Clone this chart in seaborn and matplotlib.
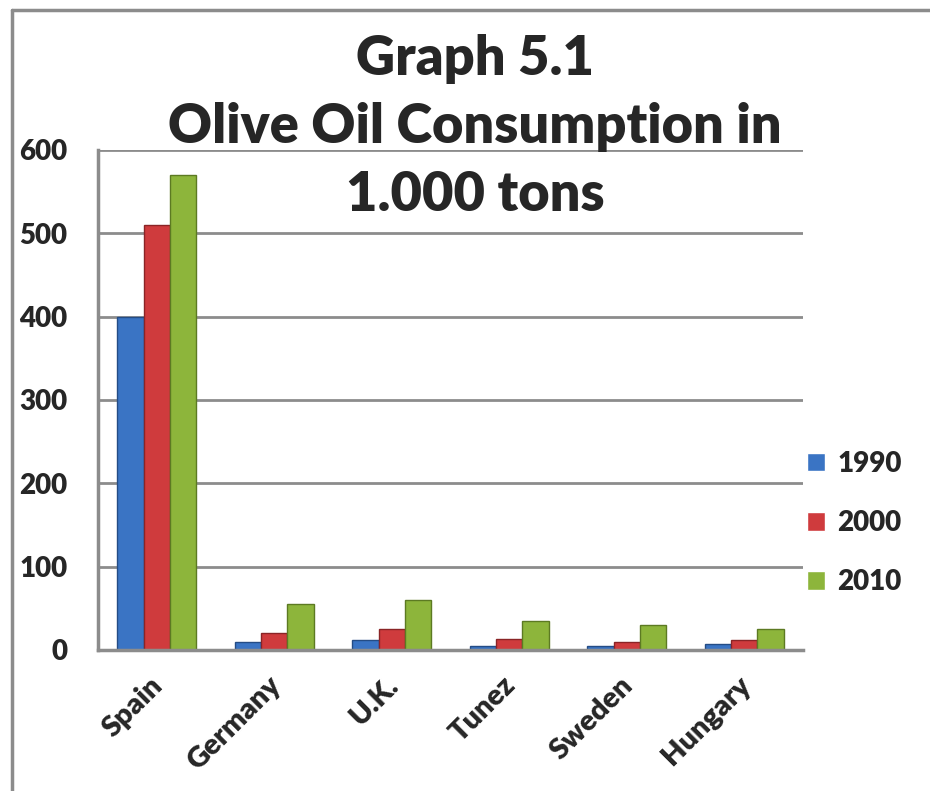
import matplotlib
matplotlib.use("Agg")
import matplotlib.pyplot as plt
import matplotlib.transforms as mtransforms
from matplotlib.lines import Line2D
import seaborn as sns
import pandas as pd

countries = ["Spain", "Germany", "U.K.", "Tunez", "Sweden", "Hungary"]
years = ["1990", "2000", "2010"]
v1990 = [400, 10, 12, 5, 5, 7]
v2000 = [510, 20, 25, 13, 10, 12]
v2010 = [570, 55, 60, 35, 30, 25]
yticks = [0, 100, 200, 300, 400, 500, 600]
title = "Graph 5.1\nOlive Oil Consumption in\n1.000 tons"

colors = ["#3A74C4", "#CF3B3D", "#8DB53B"]
edges = ["#244C85", "#8A2426", "#5C7A22"]

rows = []
for y, vals in zip(years, [v1990, v2000, v2010]):
    for c, v in zip(countries, vals):
        rows.append({"Country": c, "Year": y, "Value": v})
df = pd.DataFrame(rows)

sns.set_theme(style="white")
plt.rcParams["font.family"] = ["Lato", "DejaVu Sans"]

fig = plt.figure(figsize=(9.3, 7.91), dpi=100)
ax = fig.add_axes([98/930, 1-650/791, (803-98)/930, 500/791])

sns.barplot(data=df, x="Country", y="Value", hue="Year", order=countries,
            hue_order=years, palette=colors, width=0.67, ax=ax,
            saturation=1, legend=True)

for i, cont in enumerate(ax.containers):
    for p in cont.patches:
        p.set_edgecolor(edges[i])
        p.set_linewidth(1.0)

ax.set_ylim(0, 600)
ax.set_xlim(-0.5, 5.5)
ax.set_yticks(yticks)
ax.set_yticklabels([str(t) for t in yticks], fontsize=20, fontweight="heavy")
ax.yaxis.grid(True, color="#8C8C8C", linewidth=2)
ax.set_axisbelow(True)
ax.tick_params(axis="both", length=0)
ax.tick_params(axis="y", pad=22)
ax.set_xlabel("")
ax.set_ylabel("")
ax.set_xticks(range(len(countries)))
ax.set_xticklabels(countries, rotation=45, ha="right", rotation_mode="anchor",
                   fontsize=21, fontweight="heavy")
ax.tick_params(axis="x", pad=16)
offset = mtransforms.ScaledTranslation(-7/100, 0, fig.dpi_scale_trans)
for lbl in ax.get_xticklabels():
    lbl.set_transform(lbl.get_transform() + offset)
for s in ["top", "right"]:
    ax.spines[s].set_visible(False)
for s in ["left", "bottom"]:
    ax.spines[s].set_color("#8C8C8C")
    ax.spines[s].set_linewidth(2.5)

handles, labels = ax.get_legend_handles_labels()
if ax.legend_:
    ax.legend_.remove()
fig.legend(handles, labels, loc="center left",
           bbox_to_anchor=(807/930, 1-523/791), frameon=False,
           prop={"size": 20, "weight": "heavy"}, handlelength=0.65,
           handleheight=0.65, handletextpad=0.45, labelspacing=1.2,
           borderpad=0, borderaxespad=0)

fig.text(475/930, 1-127/791, title, ha="center", va="center",
         fontsize=39, fontweight="heavy", linespacing=1.45)

fig.add_artist(Line2D([12/930, 12/930], [0, 1-10/791], color="#8C8C8C",
                      linewidth=2.5, transform=fig.transFigure))
fig.add_artist(Line2D([12/930, 1], [1-10/791, 1-10/791], color="#8C8C8C",
                      linewidth=2.5, transform=fig.transFigure))

fig.savefig("out.png", dpi=100, facecolor="white")
